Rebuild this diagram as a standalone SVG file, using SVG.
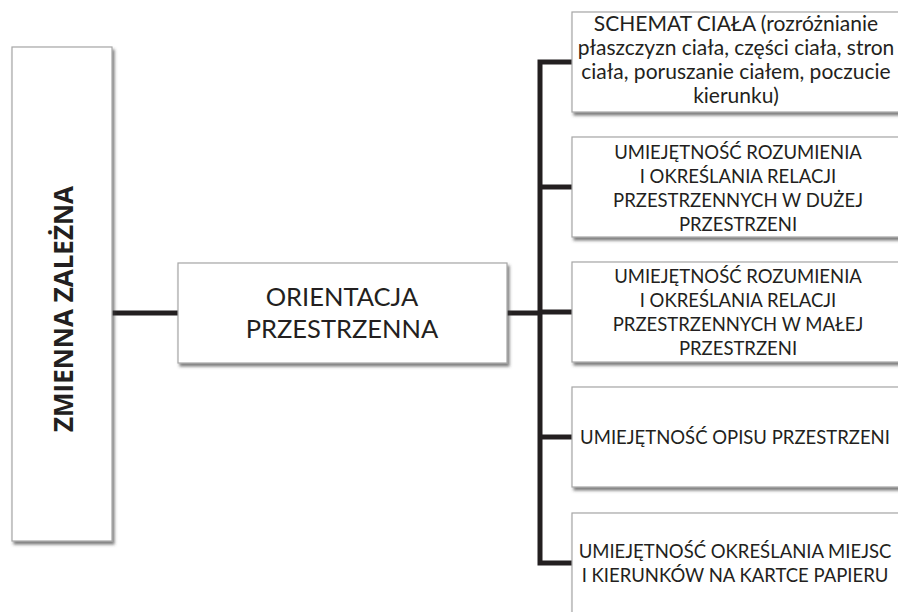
<svg xmlns="http://www.w3.org/2000/svg" width="898" height="612" viewBox="0 0 898 612">
  <defs>
    <filter id="shadow" x="-5%" y="-5%" width="115%" height="120%">
      <feDropShadow dx="2" dy="3" stdDeviation="1.6" flood-color="#3a3a3a" flood-opacity="0.65"/>
    </filter>
  </defs>
  <style>
    .box { fill: #ffffff; stroke: #a6a6a6; stroke-width: 1.2; filter: url(#shadow); }
    .lbl { font-family: Lato, "Open Sans", "Liberation Sans", sans-serif; fill: #231f20; text-anchor: middle; }
    .sm { font-size: 18.5px; }
    .mix { font-size: 21px; }
    .big { font-size: 25.5px; }
    .vert { font-family: "Open Sans", "Liberation Sans", sans-serif; font-weight: bold; font-size: 26px; fill: #231f20; text-anchor: middle; }
    .wire { fill: none; stroke: #231f20; stroke-width: 5; stroke-linejoin: miter; }
  </style>

  <rect width="898" height="612" fill="#ffffff"/>

  <!-- connectors -->
  <g id="connectors">
    <line class="wire" x1="112" y1="313" x2="178" y2="313"/>
    <line class="wire" x1="507" y1="313" x2="540" y2="313"/>
    <path class="wire" d="M572 62 H540 V563 H572"/>
    <line class="wire" x1="540" y1="187" x2="572" y2="187"/>
    <line class="wire" x1="540" y1="312" x2="572" y2="312"/>
    <line class="wire" x1="540" y1="437" x2="572" y2="437"/>
  </g>

  <!-- dependent variable -->
  <g id="zmienna">
    <rect class="box" x="12" y="47" width="100" height="494"/>
    <text class="vert" transform="translate(73 309) rotate(-90)">ZMIENNA ZALEŻNA</text>
  </g>

  <!-- central node -->
  <g id="orientacja">
    <rect class="box" x="178" y="263" width="329" height="100"/>
    <text class="lbl big" x="342" y="306">ORIENTACJA</text>
    <text class="lbl big" x="342" y="338">PRZESTRZENNA</text>
  </g>

  <!-- component skills -->
  <g id="schemat">
    <rect class="box" x="572" y="12" width="334" height="100"/>
    <text class="lbl mix" x="736" y="31">SCHEMAT CIAŁA (rozróżnianie</text>
    <text class="lbl mix" x="736" y="55">płaszczyzn ciała, części ciała, stron</text>
    <text class="lbl mix" x="736" y="79">ciała, poruszanie ciałem, poczucie</text>
    <text class="lbl mix" x="736" y="103">kierunku)</text>
  </g>

  <g id="relacje-duza">
    <rect class="box" x="572" y="137" width="334" height="100"/>
    <text class="lbl sm" x="738" y="159">UMIEJĘTNOŚĆ ROZUMIENIA</text>
    <text class="lbl sm" x="738" y="183">I OKREŚLANIA RELACJI</text>
    <text class="lbl sm" x="738" y="207">PRZESTRZENNYCH W DUŻEJ</text>
    <text class="lbl sm" x="738" y="231">PRZESTRZENI</text>
  </g>

  <g id="relacje-mala">
    <rect class="box" x="572" y="262" width="334" height="100"/>
    <text class="lbl sm" x="738" y="283">UMIEJĘTNOŚĆ ROZUMIENIA</text>
    <text class="lbl sm" x="738" y="307">I OKREŚLANIA RELACJI</text>
    <text class="lbl sm" x="738" y="331">PRZESTRZENNYCH W MAŁEJ</text>
    <text class="lbl sm" x="738" y="355">PRZESTRZENI</text>
  </g>

  <g id="opis">
    <rect class="box" x="572" y="387" width="334" height="100"/>
    <text class="lbl sm" x="735" y="444">UMIEJĘTNOŚĆ OPISU PRZESTRZENI</text>
  </g>

  <g id="kartka">
    <rect class="box" x="572" y="513" width="334" height="104"/>
    <text class="lbl sm" x="735" y="558">UMIEJĘTNOŚĆ OKREŚLANIA MIEJSC</text>
    <text class="lbl sm" x="735" y="582">I KIERUNKÓW NA KARTCE PAPIERU</text>
  </g>
</svg>
